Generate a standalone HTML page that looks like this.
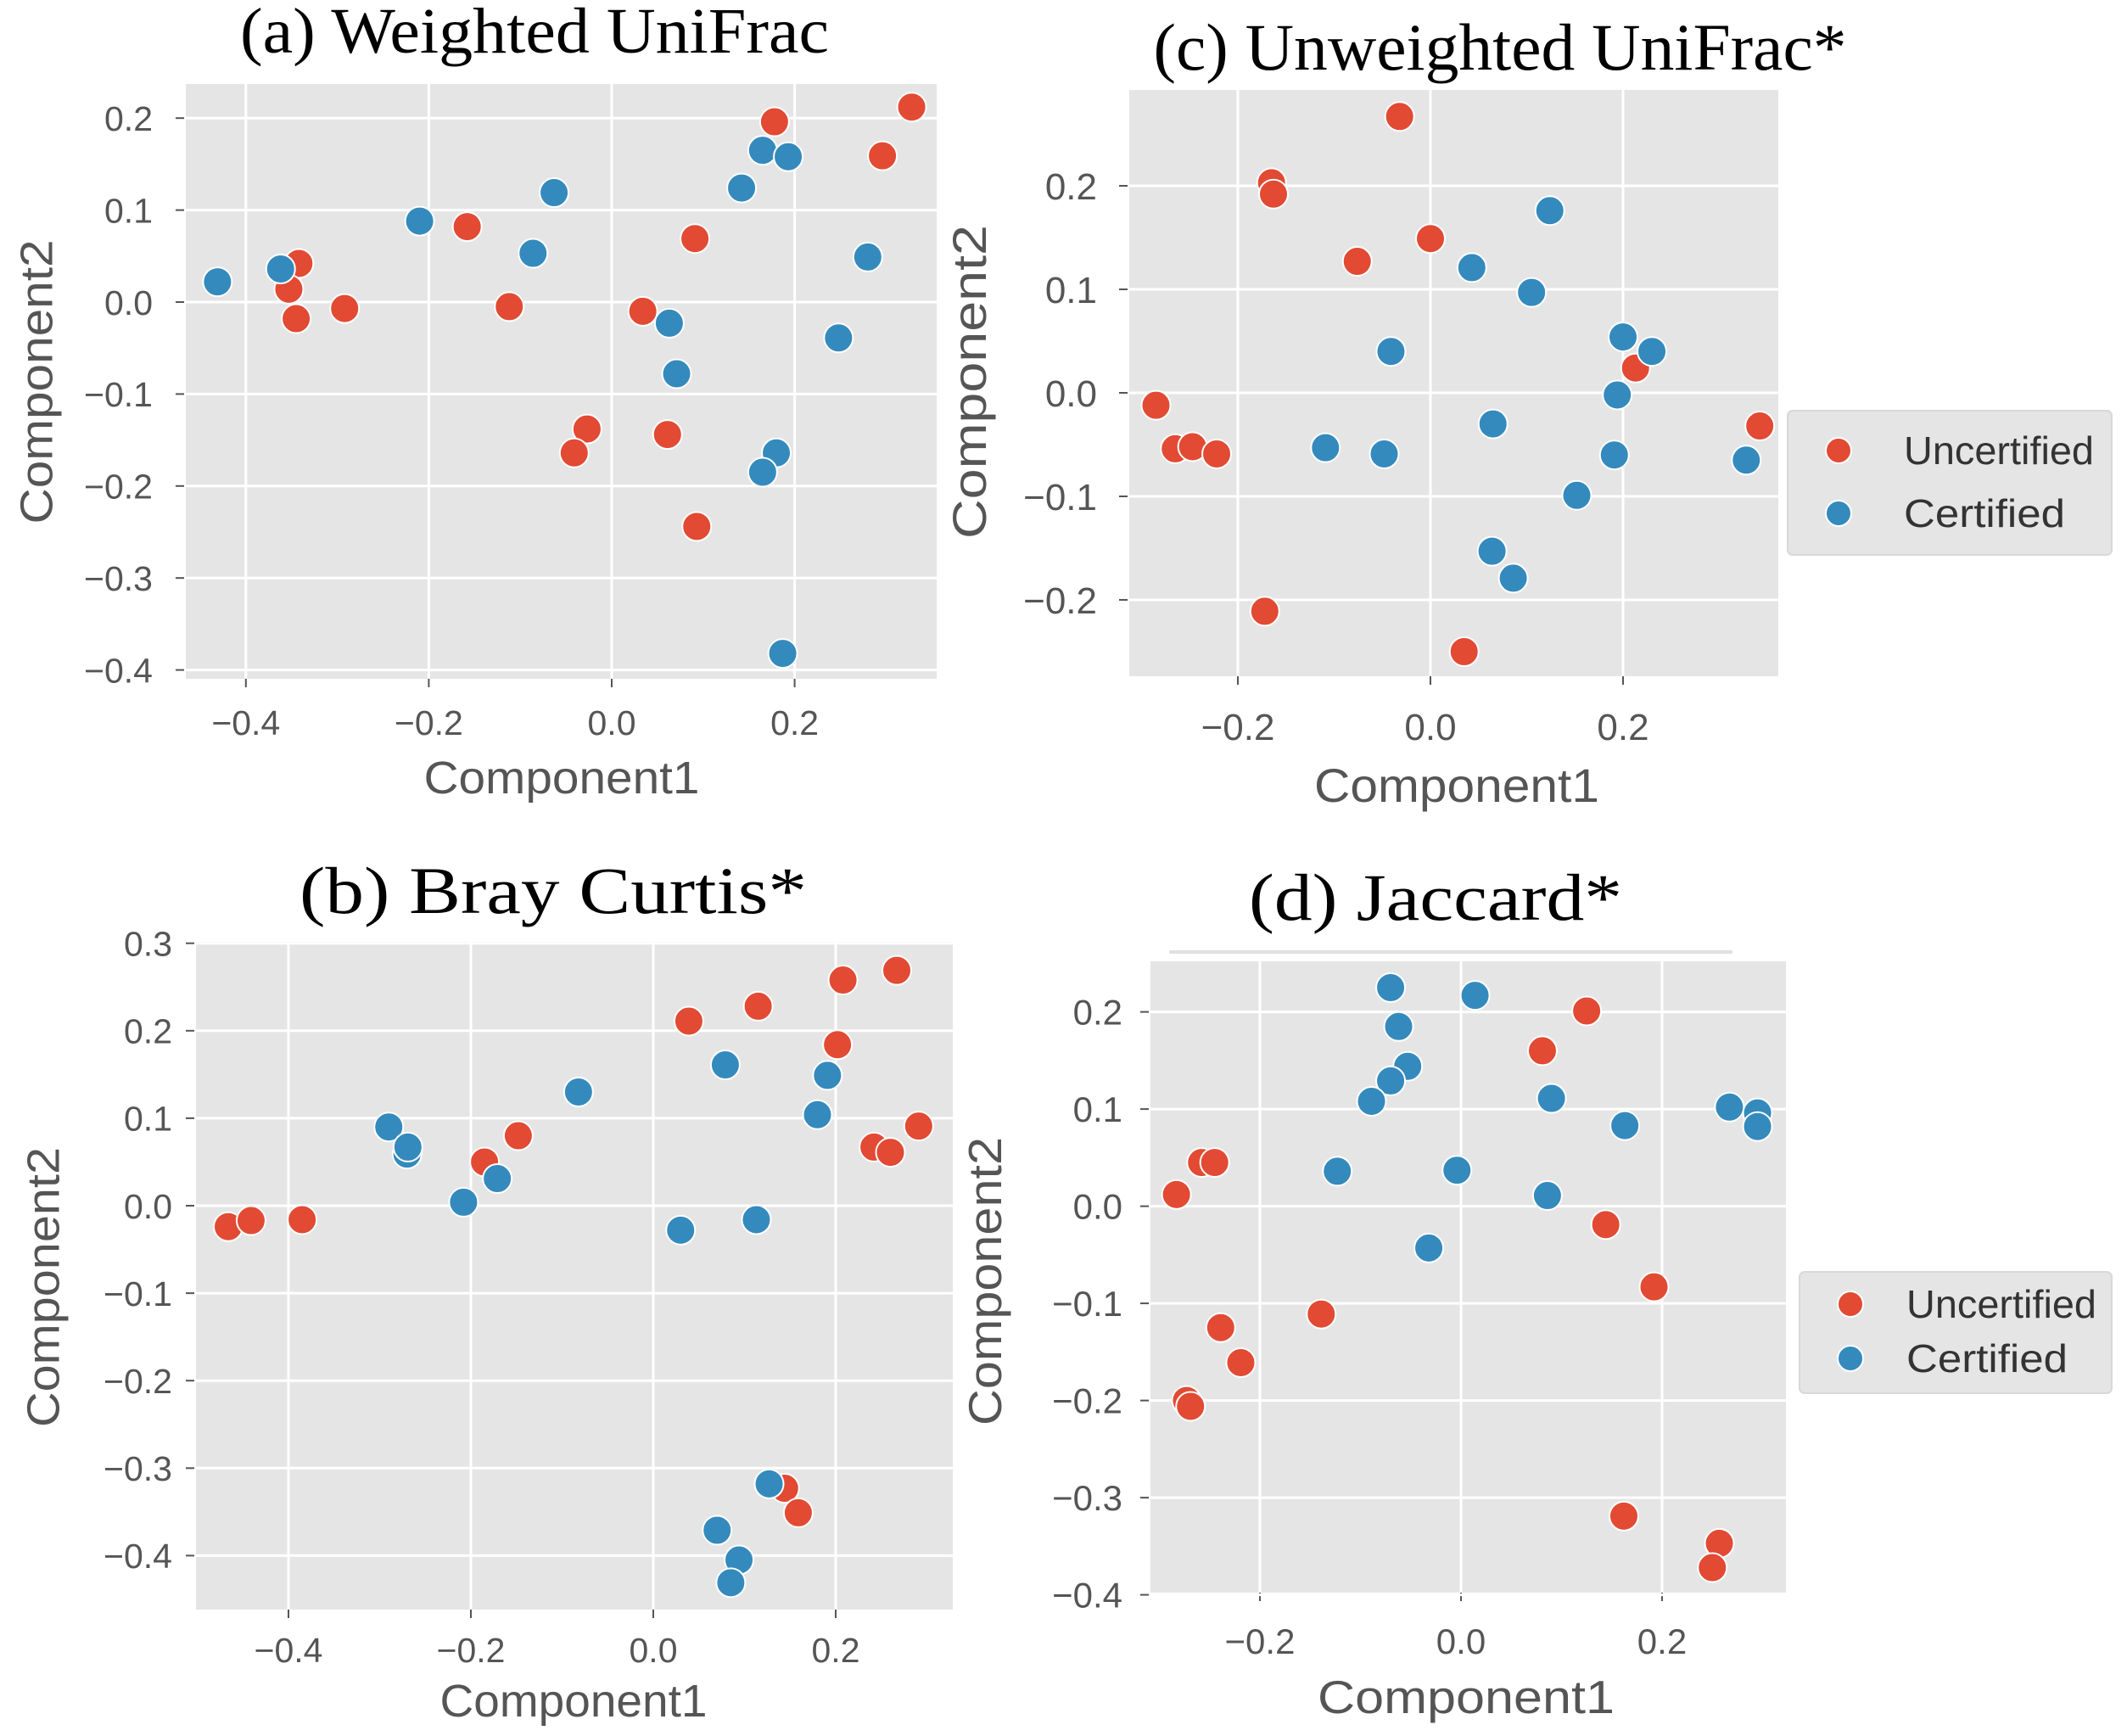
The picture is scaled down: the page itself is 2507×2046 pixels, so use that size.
<!DOCTYPE html>
<html><head><meta charset="utf-8">
<style>
html,body{margin:0;padding:0;background:#fff;}
svg{display:block;}
</style></head>
<body>
<svg id="fig" xmlns="http://www.w3.org/2000/svg" width="2507" height="2046" viewBox="0 0 2507 2046">
<rect x="0" y="0" width="2507" height="2046" fill="#fff"/>
</svg>
<script>
// ---- Panel (a) Weighted UniFrac ----
const aRedX = [0.178,0.328,0.296,-0.158,0.091,-0.342,-0.353,-0.345,-0.292,-0.112,0.034,-0.027,-0.041,0.061,0.093];
const aRedY = [0.196,0.212,0.159,0.082,0.069,0.042,0.014,-0.018,-0.007,-0.005,-0.010,-0.138,-0.164,-0.144,-0.244];
const aBlueX = [-0.431,-0.362,-0.210,-0.063,-0.086,0.165,0.193,0.142,0.280,0.063,0.071,0.248,0.180,0.165,0.187];
const aBlueY = [0.022,0.036,0.088,0.119,0.053,0.165,0.158,0.124,0.049,-0.023,-0.078,-0.039,-0.164,-0.185,-0.382];
const aXTicks = [-0.4,-0.2,0.0,0.2];
const aXLabels = ["\u22120.4","\u22120.2","0.0","0.2"];
const aYTicks = [0.2,0.1,0.0,-0.1,-0.2,-0.3,-0.4];
const aYLabels = ["0.2","0.1","0.0","\u22120.1","\u22120.2","\u22120.3","\u22120.4"];

// ---- Panel (c) Unweighted UniFrac ----
const cRedX = [-0.032,-0.165,-0.163,0.0,-0.076,0.213,-0.285,-0.265,-0.247,-0.222,0.342,-0.172,0.035];
const cRedY = [0.267,0.203,0.192,0.149,0.127,0.024,-0.012,-0.054,-0.052,-0.059,-0.032,-0.211,-0.250];
const cBlueX = [0.124,0.043,0.105,0.200,0.230,-0.041,0.194,0.065,-0.109,-0.048,0.191,0.328,0.152,0.064,0.086];
const cBlueY = [0.176,0.121,0.097,0.054,0.040,0.040,-0.002,-0.030,-0.053,-0.059,-0.060,-0.065,-0.099,-0.153,-0.179];
const cXTicks = [-0.2,0.0,0.2];
const cXLabels = ["\u22120.2","0.0","0.2"];
const cYTicks = [0.2,0.1,0.0,-0.1,-0.2];
const cYLabels = ["0.2","0.1","0.0","\u22120.1","\u22120.2"];

// ---- Panel (b) Bray Curtis ----
const bRedX = [-0.466,-0.441,-0.385,-0.185,-0.148,0.039,0.115,0.208,0.267,0.202,0.242,0.260,0.291,0.144,0.159];
const bRedY = [-0.024,-0.017,-0.016,0.050,0.080,0.211,0.228,0.258,0.269,0.184,0.067,0.061,0.091,-0.323,-0.351];
const bBlueX = [-0.290,-0.270,-0.269,-0.208,-0.171,-0.082,0.079,0.191,0.180,0.030,0.113,0.127,0.070,0.094,0.085];
const bBlueY = [0.090,0.059,0.067,0.004,0.031,0.130,0.161,0.149,0.104,-0.028,-0.016,-0.318,-0.371,-0.405,-0.431];
const bXTicks = [-0.4,-0.2,0.0,0.2];
const bXLabels = ["\u22120.4","\u22120.2","0.0","0.2"];
const bYTicks = [0.3,0.2,0.1,0.0,-0.1,-0.2,-0.3,-0.4];
const bYLabels = ["0.3","0.2","0.1","0.0","\u22120.1","\u22120.2","\u22120.3","\u22120.4"];

// ---- Panel (d) Jaccard ----
const dRedX = [0.125,0.081,-0.258,-0.245,-0.283,0.144,0.192,-0.139,-0.239,-0.219,-0.273,-0.269,0.162,0.257,0.250];
const dRedY = [0.201,0.160,0.045,0.045,0.012,-0.019,-0.083,-0.111,-0.125,-0.161,-0.200,-0.206,-0.319,-0.347,-0.372];
const dBlueX = [-0.070,0.014,-0.062,-0.053,-0.070,-0.089,-0.123,-0.004,-0.032,0.090,0.086,0.163,0.267,0.295,0.295];
const dBlueY = [0.225,0.217,0.185,0.144,0.129,0.108,0.036,0.037,-0.043,0.111,0.011,0.083,0.102,0.096,0.082];
const dXTicks = [-0.2,0.0,0.2];
const dXLabels = ["\u22120.2","0.0","0.2"];
const dYTicks = [0.2,0.1,0.0,-0.1,-0.2,-0.3,-0.4];
const dYLabels = ["0.2","0.1","0.0","\u22120.1","\u22120.2","\u22120.3","\u22120.4"];

const NS = "http://www.w3.org/2000/svg";
const svg = document.getElementById('fig');
const RED = "#e24a33", BLUE = "#348abd";

function mk(tag, attrs, parent){
  const e = document.createElementNS(NS, tag);
  for (const k in attrs) e.setAttribute(k, attrs[k]);
  parent.appendChild(e);
  return e;
}

function panel(p){
  const g = mk('g', {}, svg);
  
  
  const sx = v => p.x0 + p.kx * v;
  const sy = v => p.y0 - p.ky * v;
  const bg = mk('rect', {x:p.L, y:p.T, width:p.R-p.L, height:p.B-p.T, fill:'#e5e5e5'}, g);
  
  
  p.xt.forEach((v,i) => {
    const X = sx(v);
    const gl = mk('line', {x1:X, x2:X, y1:p.T, y2:p.B, stroke:'#fff', 'stroke-width':3}, g);
    
    
    mk('line', {x1:X, x2:X, y1:p.B, y2:p.B+10, stroke:'#555', 'stroke-width':2}, g);
    const t = mk('text', {x:X, y:p.xtBase, 'text-anchor':'middle', 'font-family':'Liberation Sans, sans-serif', 'font-size':p.tf, fill:'#555'}, g);
    t.textContent = p.xl[i];
    
    
  });
  p.yt.forEach((v,i) => {
    const Y = sy(v);
    const gl = mk('line', {x1:p.L, x2:p.R, y1:Y, y2:Y, stroke:'#fff', 'stroke-width':3}, g);
    
    
    mk('line', {x1:p.L-12, x2:p.L-2, y1:Y, y2:Y, stroke:'#555', 'stroke-width':2}, g);
    const t = mk('text', {x:p.ytRight, y:Y+p.tf*0.36, 'text-anchor':'end', 'font-family':'Liberation Sans, sans-serif', 'font-size':p.tf, fill:'#555'}, g);
    t.textContent = p.yl[i];
    
    
  });
  const drawPts = (xs, ys, col, nm) => {
    xs.forEach((v,i) => {
      const c = mk('circle', {cx:sx(v), cy:sy(ys[i]), r:17, fill:col, stroke:'#fff', 'stroke-width':2}, g);
      
      
    });
  };
  drawPts(p.rx, p.ry, RED, 'uncertified-point');
  drawPts(p.bx, p.by, BLUE, 'certified-point');
  const xt = mk('text', {x:p.xlX, y:p.xlY, 'text-anchor':'middle', 'font-family':'Liberation Sans, sans-serif', 'font-size':p.lf, fill:'#555', textLength:p.xlW, lengthAdjust:'spacingAndGlyphs'}, g);
  xt.textContent = 'Component1';
  
  
  const yt = mk('text', {x:0, y:0, 'text-anchor':'middle', 'font-family':'Liberation Sans, sans-serif', 'font-size':p.lf, fill:'#555', textLength:p.ylW, lengthAdjust:'spacingAndGlyphs', transform:'translate(' + (p.ylX + p.lf*0.36) + ',' + p.ylY + ') rotate(-90)'}, g);
  yt.textContent = 'Component2';
  
  
  const tt = mk('text', {x:p.tX, y:p.tY, 'text-anchor':'middle', 'font-family':'Liberation Serif, serif', 'font-size':p.ttf, fill:'#000', textLength:p.tW, lengthAdjust:'spacingAndGlyphs'}, g);
  tt.textContent = p.title;
  
  
  return g;
}

function legend(x, y, w, h, dy1, dy2, tx){
  const g = mk('g', {}, svg);
  
  
  mk('rect', {x:x, y:y, width:w, height:h, rx:6, fill:'#e5e5e5', stroke:'#d8d8d8', 'stroke-width':2}, g);
  const e1 = mk('g', {}, g);
  
  
  mk('circle', {cx:x+60, cy:dy1, r:15, fill:RED, stroke:'#fff', 'stroke-width':2}, e1);
  const t1 = mk('text', {x:tx, y:dy1+16, 'font-family':'Liberation Sans, sans-serif', 'font-size':46, fill:'#333', textLength:224, lengthAdjust:'spacingAndGlyphs'}, e1);
  t1.textContent = 'Uncertified';
  const e2 = mk('g', {}, g);
  
  
  mk('circle', {cx:x+60, cy:dy2, r:15, fill:BLUE, stroke:'#fff', 'stroke-width':2}, e2);
  const t2 = mk('text', {x:tx, y:dy2+16, 'font-family':'Liberation Sans, sans-serif', 'font-size':46, fill:'#333', textLength:190, lengthAdjust:'spacingAndGlyphs'}, e2);
  t2.textContent = 'Certified';
}

panel({id:'a', title:'(a)  Weighted UniFrac', tX:630, tY:62, tW:694, ttf:76,
  L:219, R:1104, T:99, B:800, x0:721, kx:1078, y0:356, ky:1084,
  rx:aRedX, ry:aRedY, bx:aBlueX, by:aBlueY, xt:aXTicks, xl:aXLabels, yt:aYTicks, yl:aYLabels,
  tf:41, xtBase:866, ytRight:180, lf:54, xlX:662, xlY:935, xlW:325, ylX:42, ylY:450, ylW:335});

panel({id:'c', title:'(c)  Unweighted UniFrac*', tX:1768, tY:82, tW:817, ttf:78,
  L:1331, R:2096, T:106, B:797, x0:1686, kx:1135, y0:463, ky:1220,
  rx:cRedX, ry:cRedY, bx:cBlueX, by:cBlueY, xt:cXTicks, xl:cXLabels, yt:cYTicks, yl:cYLabels,
  tf:44, xtBase:872, ytRight:1293, lf:56, xlX:1717, xlY:945, xlW:336, ylX:1142, ylY:450, ylW:370});

panel({id:'b', title:'(b)  Bray Curtis*', tX:652, tY:1076, tW:598, ttf:78,
  L:231, R:1123, T:1110, B:1897, x0:770, kx:1075, y0:1421, ky:1031,
  rx:bRedX, ry:bRedY, bx:bBlueX, by:bBlueY, xt:bXTicks, xl:bXLabels, yt:bYTicks, yl:bYLabels,
  tf:41, xtBase:1959, ytRight:203, lf:54, xlX:676, xlY:2023, xlW:315, ylX:50, ylY:1517, ylW:330});

panel({id:'d', title:'(d)  Jaccard*', tX:1692, tY:1084, tW:440, ttf:78,
  L:1356, R:2105, T:1133, B:1877, x0:1722, kx:1185, y0:1421.6, ky:1145,
  rx:dRedX, ry:dRedY, bx:dBlueX, by:dBlueY, xt:dXTicks, xl:dXLabels, yt:dYTicks, yl:dYLabels,
  tf:42, xtBase:1949, ytRight:1323, lf:55, xlX:1728, xlY:2019, xlW:350, ylX:1160, ylY:1510, ylW:340});

const fl = mk('line', {x1:1378, x2:2042, y1:1122, y2:1122, stroke:'#e0e0e0', 'stroke-width':4}, svg);



legend(2107, 484, 382, 170, 531, 605, 2244);
legend(2121, 1499, 368, 143, 1537, 1601, 2247);
</script>
</body></html>
